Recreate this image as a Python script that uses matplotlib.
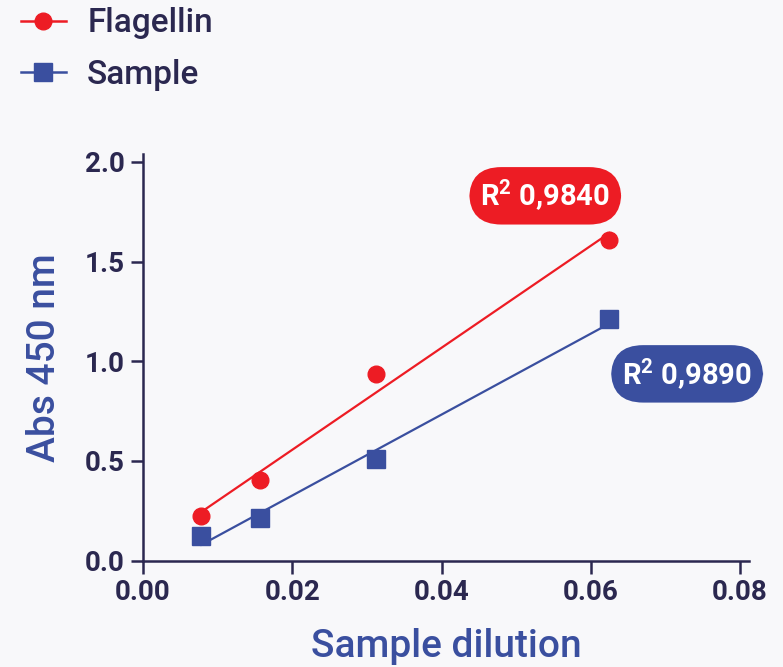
import numpy as np
import matplotlib
matplotlib.use('Agg')
import matplotlib.pyplot as plt
from matplotlib.lines import Line2D

# data
dilution = [1/128, 1/64, 1/32, 1/16]
flagellin = [0.226, 0.405, 0.935, 1.61]
sample = [0.125, 0.215, 0.51, 1.212]
r2_labels = ['R$^{2}$ 0,9840', 'R$^{2}$ 0,9890']
xticks = [0.00, 0.02, 0.04, 0.06, 0.08]
yticks = [0.0, 0.5, 1.0, 1.5, 2.0]

red = '#ed1c24'
blue = '#3a4f9f'
navy = '#2b2850'
bg = '#f8f8fa'

plt.rcParams['font.family'] = ['Roboto', 'DejaVu Sans']
plt.rcParams['mathtext.fontset'] = 'custom'
plt.rcParams['mathtext.rm'] = 'Roboto:bold'
plt.rcParams['mathtext.it'] = 'Roboto:bold'
plt.rcParams['mathtext.bf'] = 'Roboto:bold'

fig = plt.figure(figsize=(7.83, 6.67), dpi=100, facecolor=bg)
ax = fig.add_axes([0.1826, 0.1594, 0.774, 0.6098])
ax.set_facecolor(bg)

x = np.array(dilution)
#fit lines for both series
for yv, col, mk, ms in [(flagellin, red, 'o', 12), (sample, blue, 's', 13)]:
    k, b = np.polyfit(x, yv, 1)
    ax.plot([x[0], x[-1]], [k*x[0]+b, k*x[-1]+b], color=col, lw=1.6, zorder=2)
    ax.plot(x, yv, linestyle='none', marker=mk, ms=ms, color=col, zorder=3)

ax.set_xlim(0, 0.0812)
ax.set_ylim(0, 2.04)
ax.set_xticks(xticks)
ax.set_xticklabels(['%.2f' % t for t in xticks])
ax.set_yticks(yticks)
ax.set_yticklabels(['%.1f' % t for t in yticks])
for s in ['top', 'right']:
    ax.spines[s].set_visible(False)
for s in ['left', 'bottom']:
    ax.spines[s].set_color(navy)
    ax.spines[s].set_linewidth(1.8)
ax.tick_params(length=9, width=1.8, color=navy, labelcolor=navy, labelsize=20, pad=4)
for lab in ax.get_xticklabels() + ax.get_yticklabels():
    lab.set_fontweight('bold')

ax.set_xlabel('Sample dilution', fontsize=28, color=blue, fontweight='medium', labelpad=16)
ax.set_ylabel('Abs 450 nm', fontsize=28, color=blue, fontweight='medium', labelpad=16)

# R squared pills
pill = dict(boxstyle='round,pad=0.38,rounding_size=1.1', ec='none')
ax.text(0.0539, 1.83, r2_labels[0], fontsize=21, fontweight='bold', color='white',
        ha='center', va='center', zorder=4, bbox=dict(pill, fc=red))
ax.text(0.0729, 0.937, r2_labels[1], fontsize=21, fontweight='bold', color='white',
        ha='center', va='center', zorder=4, bbox=dict(pill, fc=blue))

handles = [Line2D([], [], color=red, marker='o', ms=12, lw=1.8),
           Line2D([], [], color=blue, marker='s', ms=13, lw=1.8)]
fig.legend(handles, ['Flagellin', 'Sample'], loc='upper left', bbox_to_anchor=(0.022, 0.994),
           frameon=False, labelcolor=navy, handlelength=1.35,
           handletextpad=0.65, labelspacing=0.58, borderaxespad=0.0, borderpad=0.1,
           prop={'weight': 'medium', 'size': 24})

fig.savefig('out.png', dpi=100, facecolor=bg)
